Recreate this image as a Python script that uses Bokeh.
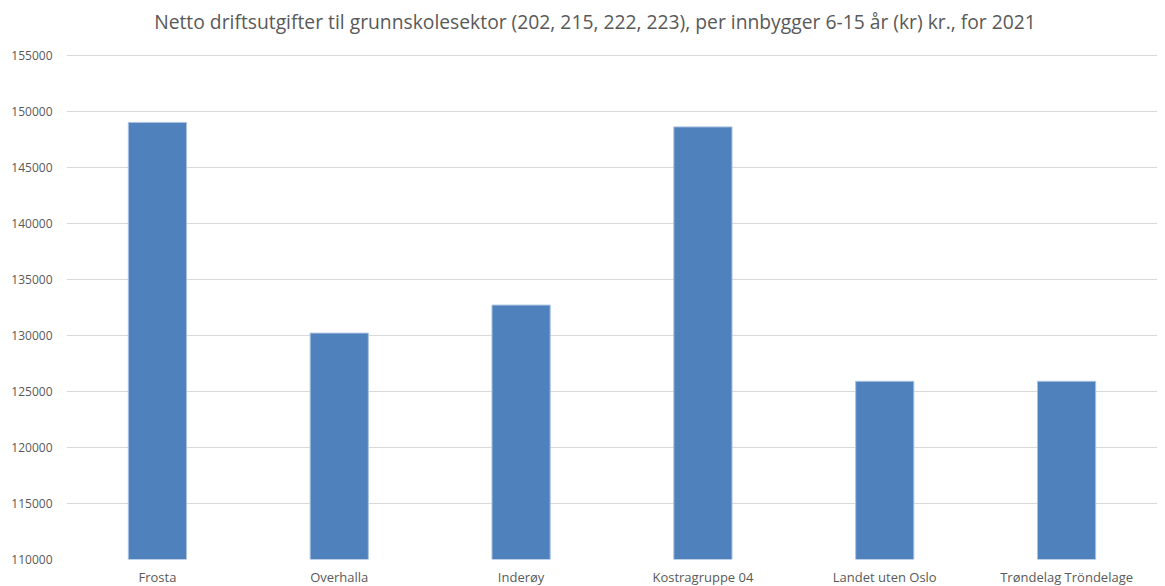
from bokeh.plotting import figure
from bokeh.models import FixedTicker, Range1d, Div
from bokeh.layouts import column
from bokeh.embed import file_html
from bokeh.resources import INLINE

categories = ["Frosta", "Overhalla", "Inderøy", "Kostragruppe 04",
              "Landet uten Oslo", "Trøndelag Tröndelage"]
values = [149000, 130200, 132700, 148600, 125900, 125900]
y_ticks = [110000, 115000, 120000, 125000, 130000, 135000, 140000, 145000, 150000, 155000]
title_text = ("Netto driftsutgifter til grunnskolesektor (202, 215, 222, 223), "
              "per innbygger 6-15 år (kr) kr., for 2021")

FONT = "Open Sans"
TXT = "#595959"

title = Div(text=title_text, width=1157, height=30,
            styles={"font-family": FONT, "font-size": "19.3px", "color": TXT,
                    "text-align": "center", "padding-left": "23px",
                    "padding-top": "4px", "line-height": "26px",
                    "box-sizing": "border-box", "white-space": "nowrap"})

p = figure(x_range=categories, y_range=Range1d(110000, 155060),
           width=1157, height=548, output_backend="svg", toolbar_location=None,
           min_border_left=66, min_border_right=0, min_border_top=14, min_border_bottom=0)

p.vbar(x=categories, top=values, bottom=110000, width=0.32,
       fill_color="#4F81BD", line_color="#A9C2E0", line_width=1)

p.outline_line_color = None
p.xgrid.grid_line_color = None
p.ygrid.grid_line_color = "#D9D9D9"
p.ygrid.grid_line_width = 1

p.yaxis.ticker = FixedTicker(ticks=y_ticks)
for ax in (p.xaxis, p.yaxis):
    ax.axis_line_color = None
    ax.major_tick_line_color = None
    ax.minor_tick_line_color = None
    ax.major_tick_out = 0
    ax.major_tick_in = 0
    ax.major_label_text_font = FONT
    ax.major_label_text_color = TXT
p.yaxis.major_label_text_font_size = "12px"
p.xaxis.major_label_text_font_size = "13px"
p.yaxis.major_label_standoff = 14
p.xaxis.major_label_standoff = 8
p.yaxis.formatter.use_scientific = False

layout = column(title, p, spacing=0)
open("out.html", "w").write(file_html(layout, INLINE))
